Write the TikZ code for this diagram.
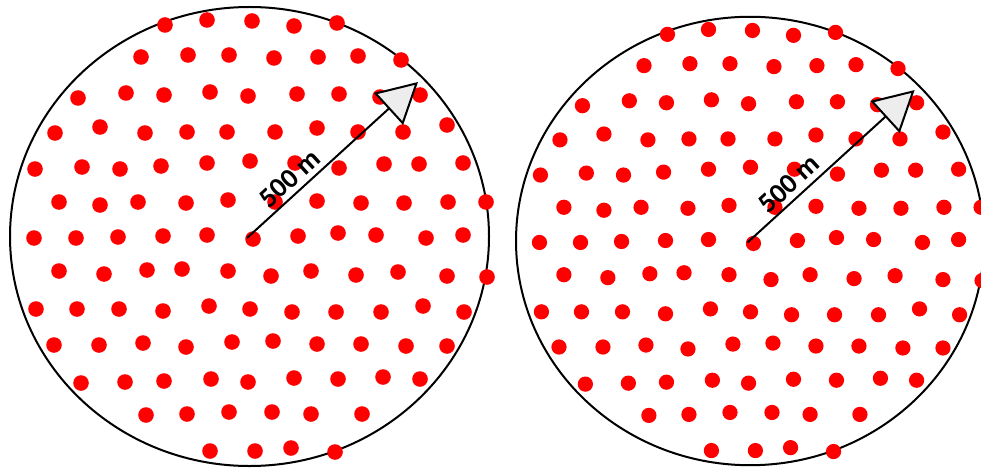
\documentclass[tikz,border=0pt]{standalone}
\usepackage{fontspec}
\setmainfont{Carlito}
\usetikzlibrary{arrows.meta}
\tikzset{
  reddot/.style={fill=red},
  rim/.style={draw=black, line width=2pt},
  radiusarrow/.style={draw=black, line width=2pt,
    -{Triangle[length=40pt,width=43pt,fill=black!7,line width=2pt]}},
  distlabel/.style={font=\bfseries\fontsize{28}{32}\selectfont, sloped, above=5pt, inner sep=0pt}
}
\newcommand{\dotfield}{%
  \foreach \px/\py in {
    165/25, 207/20, 252/21, 294/26, 337/23,
    141/57, 188/55, 229/55, 274/58, 318/57, 358/56, 401/60,
    78/98, 126/93, 164/95, 210/92, 248/96, 297/94, 339/94, 380/97, 420/95,
    55/133, 100/127, 145/133, 187/132, 227/132, 275/132, 317/128, 358/132, 403/132, 447/125,
    35/169, 82/167, 120/169, 161/166, 207/163, 250/161, 295/163, 339/168, 384/164, 419/164, 463/163,
    59/202, 100/205, 138/202, 186/203, 228/200, 275/202, 317/201, 361/203, 404/203, 448/202, 486/202,
    34/238, 76/238, 118/237, 163/236, 207/235, 253/239, 298/236, 338/233, 376/235, 426/238, 463/235,
    59/271, 104/274, 147/270, 182/269, 228/271, 271/276, 311/271, 356/275, 398/272, 447/276, 487/277,
    36/309, 77/309, 119/309, 163/311, 209/306, 250/309, 292/312, 336/312, 381/312, 423/306, 464/312,
    54/345, 99/345, 143/343, 186/347, 232/342, 273/341, 317/344, 361/344, 406/346, 447/346,
    81/383, 125/382, 164/381, 211/379, 248/382, 294/378, 338/379, 383/377, 420/379,
    146/415, 187/414, 229/412, 272/412, 311/414, 362/414,
    210/451, 255/451, 291/448, 335/452}
  {\fill[reddot] (\px,\py) circle[radius=7.8pt];}%
}
\newcommand{\panel}[1]{%
  \coordinate (ctr#1) at (249.5,236.5);
  \coordinate (start#1) at (247,238);
  \coordinate (tip#1) at (418,82);
  \draw[rim] (ctr#1) ellipse[x radius=239.5, y radius=229.5];
  \dotfield
  \draw[radiusarrow] (start#1) -- node[distlabel, pos=0.31] {500 m} (tip#1);
}
\begin{document}
\begin{tikzpicture}[x=1pt, y=-1pt]
  \fill[white] (0,0) rectangle (981,468);
  \useasboundingbox (0,0) rectangle (981,468);
  \begin{scope}
    \panel{L}
  \end{scope}
  \begin{scope}[shift={(750,241)}, scale=0.977, shift={(-249.5,-236.5)}]
    \panel{R}
  \end{scope}
\end{tikzpicture}
\end{document}
